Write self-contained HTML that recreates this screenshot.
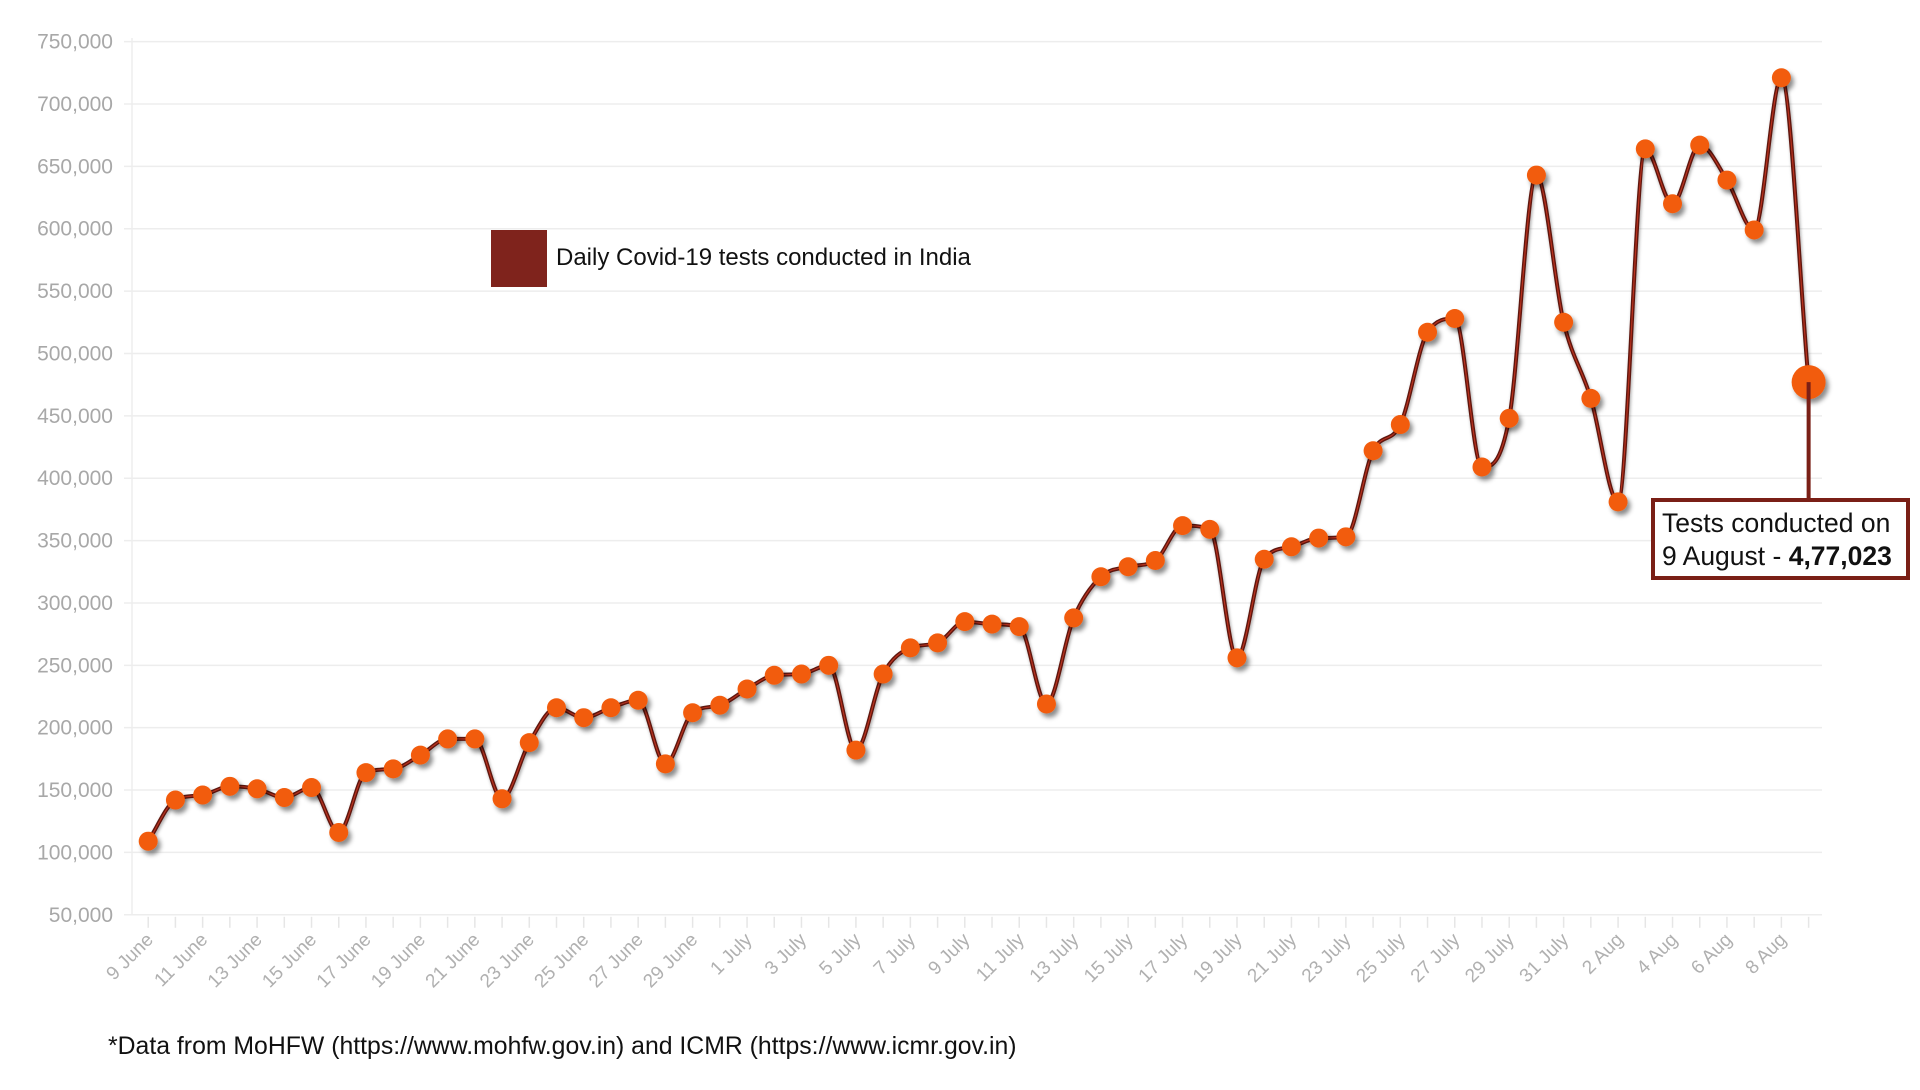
<!DOCTYPE html>
<html><head><meta charset="utf-8"><style>
html,body{margin:0;padding:0;background:#fff;}
svg{display:block;font-family:"Liberation Sans",sans-serif;}
</style></head><body>
<svg id="chart" width="1920" height="1090" viewBox="0 0 1920 1090">
<defs>
<filter id="sh" x="-50%" y="-50%" width="200%" height="200%"><feDropShadow dx="3" dy="4" stdDeviation="2.5" flood-color="#000" flood-opacity="0.45"/></filter>
<filter id="lsh" x="-5%" y="-5%" width="110%" height="110%"><feDropShadow dx="1" dy="2" stdDeviation="1.5" flood-color="#000" flood-opacity="0.35"/></filter>
</defs>
<g id="grid"></g>
<g id="yaxis"></g>
<g id="xaxis"></g>
<g id="series"></g>
<g>
<rect x="491" y="230" width="56" height="57" fill="#7f231c"/>
<text x="556" y="265" font-size="24" fill="#111">Daily Covid-19 tests conducted in India</text>
</g>
<g id="annot"></g>
<text x="108" y="1054" font-size="24.8" fill="#111">*Data from MoHFW (https://www.mohfw.gov.in) and ICMR (https://www.icmr.gov.in)</text>
</svg>
<script>
const dates = ["9 June","10 June","11 June","12 June","13 June","14 June","15 June","16 June","17 June","18 June","19 June","20 June","21 June","22 June","23 June","24 June","25 June","26 June","27 June","28 June","29 June","30 June","1 July","2 July","3 July","4 July","5 July","6 July","7 July","8 July","9 July","10 July","11 July","12 July","13 July","14 July","15 July","16 July","17 July","18 July","19 July","20 July","21 July","22 July","23 July","24 July","25 July","26 July","27 July","28 July","29 July","30 July","31 July","1 Aug","2 Aug","3 Aug","4 Aug","5 Aug","6 Aug","7 Aug","8 Aug","9 Aug"];
const tests = [109000,142000,146000,153000,151000,144000,152000,116000,164000,167000,178000,191000,191000,143000,188000,216000,208000,216000,222000,171000,212000,218000,231000,242000,243000,250000,182000,243000,264000,268000,285000,283000,281000,219000,288000,321000,329000,334000,362000,359000,256000,335000,345000,352000,353000,422000,443000,517000,528000,409000,448000,643000,525000,464000,381000,664000,620000,667000,639000,599000,721000,477023];
const yTicks = [50000,100000,150000,200000,250000,300000,350000,400000,450000,500000,550000,600000,650000,700000,750000];
const yTickLabels = ["50,000","100,000","150,000","200,000","250,000","300,000","350,000","400,000","450,000","500,000","550,000","600,000","650,000","700,000","750,000"];

const NS="http://www.w3.org/2000/svg";
const X0=148.2, DX=27.22, PL=132, PR=1822;
const x=i=>X0+i*DX;
const y=v=>914.8-(v-50000)*(873.2/700000);
function mk(tag,attrs,parent){const e=document.createElementNS(NS,tag);for(const k in attrs)e.setAttribute(k,attrs[k]);parent.appendChild(e);return e;}
const grid=document.getElementById('grid'),ya=document.getElementById('yaxis'),xa=document.getElementById('xaxis'),ser=document.getElementById('series'),an=document.getElementById('annot');

mk('line',{x1:PL,y1:38,x2:PL,y2:y(50000),stroke:'#eee','stroke-width':1.5},grid);
yTicks.forEach((t,k)=>{
  const l=mk('line',{x1:PL-8,y1:y(t),x2:PR,y2:y(t),stroke:'#ededed','stroke-width':1.5},grid);
  
  
  const tx=mk('text',{x:113,y:y(t)+7,'text-anchor':'end','font-size':21,fill:'#a8a8a8'},ya);
  tx.textContent=yTickLabels[k];
  
  
});
dates.forEach((d,i)=>{
  const tk=mk('line',{x1:x(i),y1:y(50000)+2,x2:x(i),y2:y(50000)+13,stroke:'#e6e6e6','stroke-width':1.5},xa);
  
  
  if(i%2===0 && i<dates.length-1){
    const tx=mk('text',{x:x(i)+6,y:y(50000)+26,'text-anchor':'end','font-size':19,fill:'#b0b0b0',transform:`rotate(-45 ${x(i)+6} ${y(50000)+26})`},xa);
    tx.textContent=d;
    
    
  }
});
// monotone cubic curve
const P=tests.map((v,i)=>[x(i),y(v)]);
const n=P.length, h=DX;
const dl=[]; for(let i=0;i<n-1;i++) dl.push((P[i+1][1]-P[i][1])/h);
const m=new Array(n);
m[0]=dl[0]; m[n-1]=dl[n-2];
for(let i=1;i<n-1;i++){ m[i]=(dl[i-1]*dl[i]<=0)?0:(dl[i-1]+dl[i])/2; }
for(let i=0;i<n-1;i++){
  if(dl[i]===0){m[i]=0;m[i+1]=0;continue;}
  const a=m[i]/dl[i], b=m[i+1]/dl[i], s=a*a+b*b;
  if(s>9){const t=3/Math.sqrt(s); m[i]=t*a*dl[i]; m[i+1]=t*b*dl[i];}
}
let dstr=`M${P[0][0]},${P[0][1]}`;
for(let i=0;i<n-1;i++){
  dstr+=` C${P[i][0]+h/3},${P[i][1]+m[i]*h/3} ${P[i+1][0]-h/3},${P[i+1][1]-m[i+1]*h/3} ${P[i+1][0]},${P[i+1][1]}`;
}
const line=mk('path',{d:dstr,fill:'none',stroke:'#5e1610','stroke-width':4,filter:'url(#lsh)'},ser);


mk('path',{d:dstr,fill:'none',stroke:'#b8321f','stroke-width':1.2},ser);
const last=tests.length-1;
const con=mk('line',{x1:x(last),y1:y(tests[last]),x2:x(last),y2:500,stroke:'#7a1f16','stroke-width':4},an);


tests.forEach((v,i)=>{
  const c=mk('circle',{cx:x(i),cy:y(v),r:i===last?17:9.5,fill:'#f25c0a',filter:'url(#sh)'},ser);
  
  
});
const box=mk('rect',{x:1653,y:500,width:255,height:78,fill:'#fff',stroke:'#7a1f16','stroke-width':4},an);


const t1=mk('text',{x:1662,y:532,'font-size':26.5,fill:'#111'},an);
t1.textContent='Tests conducted on';


const t2=mk('text',{x:1662,y:565,'font-size':26.5,fill:'#111'},an);
t2.innerHTML='9 August - <tspan font-weight="bold">4,77,023</tspan>';


</script>
</body></html>
